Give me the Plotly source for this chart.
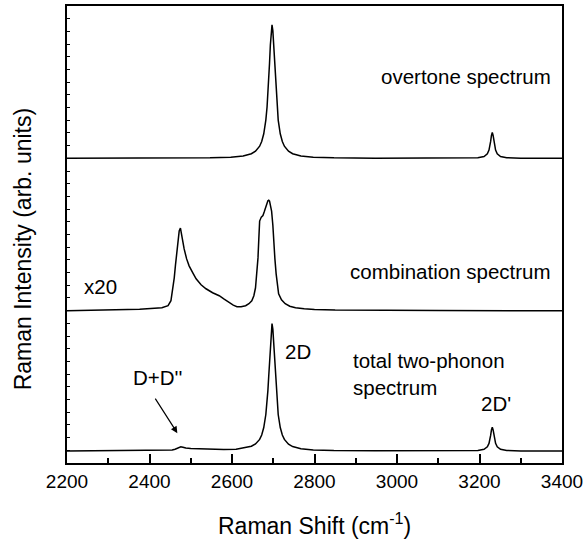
import plotly.graph_objects as go

# ---------------- data ----------------
OV_X = [2200, 2400, 2500, 2547, 2597, 2627, 2647, 2657, 2667, 2672, 2677, 2682, 2685, 2687, 2689,
        2691, 2693, 2695, 2697, 2699, 2701, 2703, 2705, 2707, 2709, 2712, 2717, 2722, 2727, 2737,
        2747, 2767, 2797, 2847, 2947, 3050, 3150, 3181, 3196, 3211, 3219, 3223, 3225, 3227, 3229,
        3231, 3233, 3235, 3237, 3239, 3243, 3251, 3266, 3300, 3400]
OV_Y = [0.0, 0.14, 0.31, 0.54, 1.2, 2.42, 4.67, 7.15, 12.2, 16.9, 24.7, 38.4, 51.6, 63.6, 78.4,
        95.8, 113.8, 128.3, 134.0, 128.3, 113.8, 95.8, 78.4, 63.6, 51.6, 38.4, 24.7, 16.9, 12.2, 7.15,
        4.67, 2.42, 1.2, 0.54, 0.19, 0.12, 0.18, 0.35, 0.67, 1.87, 4.55, 8.34, 11.87, 17.0, 22.97,
        26.0, 22.97, 17.0, 11.87, 8.34, 4.51, 1.83, 0.63, 0.2, 0.05]

COMB_X = [2200, 2300, 2376, 2430, 2445, 2452, 2456, 2460, 2463, 2466, 2469, 2472, 2475, 2478, 2481,
          2484, 2490, 2496, 2505, 2513, 2525, 2537, 2553, 2569, 2581, 2593, 2603, 2612, 2622, 2633,
          2641, 2648, 2653, 2657, 2660, 2663, 2665, 2667, 2671, 2675, 2678, 2681, 2684, 2687, 2689,
          2691, 2693, 2696, 2699, 2701, 2704, 2707, 2710, 2713, 2720, 2729, 2740, 2754, 2775, 2800,
          2850, 2950, 3100, 3400]
COMB_Y = [0.0, 0.5, 1.5, 3.0, 5.0, 10.0, 20.0, 33.0, 46.0, 60.0, 72.0, 80.0, 83.0, 76.0, 68.0,
          62.0, 52.0, 45.0, 38.0, 32.0, 26.0, 22.0, 18.0, 15.0, 11.5, 8.0, 5.5, 4.0, 4.0, 5.0,
          7.0, 10.0, 15.0, 23.0, 36.0, 53.0, 72.0, 90.0, 94.0, 95.5, 99.0, 103.0, 107.0, 110.5, 111.0,
          110.0, 106.0, 100.0, 86.0, 70.0, 52.0, 37.0, 25.0, 17.0, 11.0, 7.0, 4.5, 3.0, 2.0, 1.2,
          0.6, 0.3, 0.1, 0.0]

TOT_X = [2200, 2300, 2400, 2440, 2455, 2462, 2467, 2471, 2476, 2481, 2488, 2500, 2520, 2545, 2580,
         2610, 2627, 2647, 2657, 2667, 2672, 2677, 2682, 2685, 2687, 2689, 2691, 2693, 2695, 2697,
         2699, 2701, 2703, 2705, 2707, 2709, 2712, 2717, 2722, 2727, 2737, 2747, 2767, 2797, 2847,
         2947, 3050, 3150, 3181, 3196, 3211, 3219, 3223, 3225, 3227, 3229, 3231, 3233, 3235, 3237,
         3239, 3243, 3251, 3266, 3300, 3400]
TOT_Y = [0.0, 0.2, 0.4, 0.7, 1.1, 1.8, 2.8, 3.6, 4.3, 3.8, 3.0, 2.5, 2.1, 1.8, 1.6,
         1.7, 2.8, 4.8, 7.1, 11.7, 16.1, 23.6, 36.7, 49.3, 60.7, 74.9, 91.5, 108.7, 122.5, 128.0,
         122.5, 108.7, 91.5, 74.9, 60.7, 49.3, 36.7, 23.6, 16.1, 11.7, 6.8, 4.5, 2.3, 1.15, 0.5,
         0.2, 0.1, 0.15, 0.3, 0.6, 1.7, 4.2, 7.7, 11.0, 15.7, 21.2, 24.0, 21.2, 15.7, 11.0,
         7.7, 4.2, 1.7, 0.6, 0.15, 0.05]

X_TICKS = [2200, 2400, 2600, 2800, 3000, 3200, 3400]

# ---------------- layout constants (stacking offsets) ----------------
OFF_OV, OFF_COMB, OFF_TOT = 306, 153, 12
Y_MAX = 459

FONT = "Liberation Sans, Arial, sans-serif"
LINE = dict(color="black", width=1.5)

fig = go.Figure()
for xs, ys, off in [(OV_X, OV_Y, OFF_OV), (COMB_X, COMB_Y, OFF_COMB), (TOT_X, TOT_Y, OFF_TOT)]:
    fig.add_trace(go.Scatter(x=xs, y=[v + off for v in ys], mode="lines", line=LINE,
                             showlegend=False, hoverinfo="skip"))

ann_font = dict(family=FONT, size=20.5, color="black")
annotations = [
    dict(x=3378, y=388, text="overtone spectrum", xanchor="right", yanchor="middle"),
    dict(x=3378, y=192, text="combination spectrum", xanchor="right", yanchor="middle"),
    dict(x=2236, y=177, text="x20", xanchor="left", yanchor="middle"),
    dict(x=2761, y=111.5, text="2D", xanchor="center", yanchor="middle"),
    dict(x=2889, y=89, text="total two-phonon<br>spectrum", xanchor="left", yanchor="middle", align="left"),
    dict(x=3241, y=60, text="2D'", xanchor="center", yanchor="middle"),
    dict(x=2419, y=86, text="D+D''", xanchor="center", yanchor="middle"),
]
for a in annotations:
    a.update(xref="x", yref="y", showarrow=False, font=ann_font)

# arrow to D+D''
annotations.append(dict(x=2467.5, y=30, xref="x", yref="y", text="", showarrow=True,
                        ax=-23, ay=-36, arrowhead=2, arrowsize=1.1, arrowwidth=1.2,
                        arrowcolor="black", standoff=0, startstandoff=0))
# axis titles
annotations.append(dict(x=-0.0884, y=0.468, xref="paper", yref="paper",
                        text="Raman Intensity (arb. units)", textangle=-90, showarrow=False,
                        font=dict(family=FONT, size=23, color="black"),
                        xanchor="center", yanchor="middle"))
annotations.append(dict(x=0.5, y=-0.133, xref="paper", yref="paper",
                        text="Raman Shift (cm<sup>-1</sup>)", showarrow=False,
                        font=dict(family=FONT, size=23, color="black"),
                        xanchor="center", yanchor="middle"))

fig.update_layout(
    width=587, height=541,
    margin=dict(l=67, r=22, t=4, b=78),
    paper_bgcolor="white", plot_bgcolor="white",
    annotations=annotations,
    xaxis=dict(range=[2200, 3400], tickvals=X_TICKS, ticktext=[str(v) for v in X_TICKS],
               ticks="inside", ticklen=9, tickwidth=1.5, tickcolor="black",
               minor=dict(dtick=100, tick0=2200, ticks="inside", ticklen=5, tickwidth=1.5,
                          tickcolor="black", showgrid=False),
               showline=True, linecolor="black", linewidth=2, mirror=True,
               showgrid=False, zeroline=False,
               tickfont=dict(family=FONT, size=19, color="black")),
    yaxis=dict(range=[0, Y_MAX], tick0=0, dtick=Y_MAX / 36, ticks="inside", ticklen=2.5,
               tickwidth=1, tickcolor="black", showticklabels=False,
               showline=True, linecolor="black", linewidth=2, mirror=True,
               showgrid=False, zeroline=False),
)

fig.write_html("out.html")
